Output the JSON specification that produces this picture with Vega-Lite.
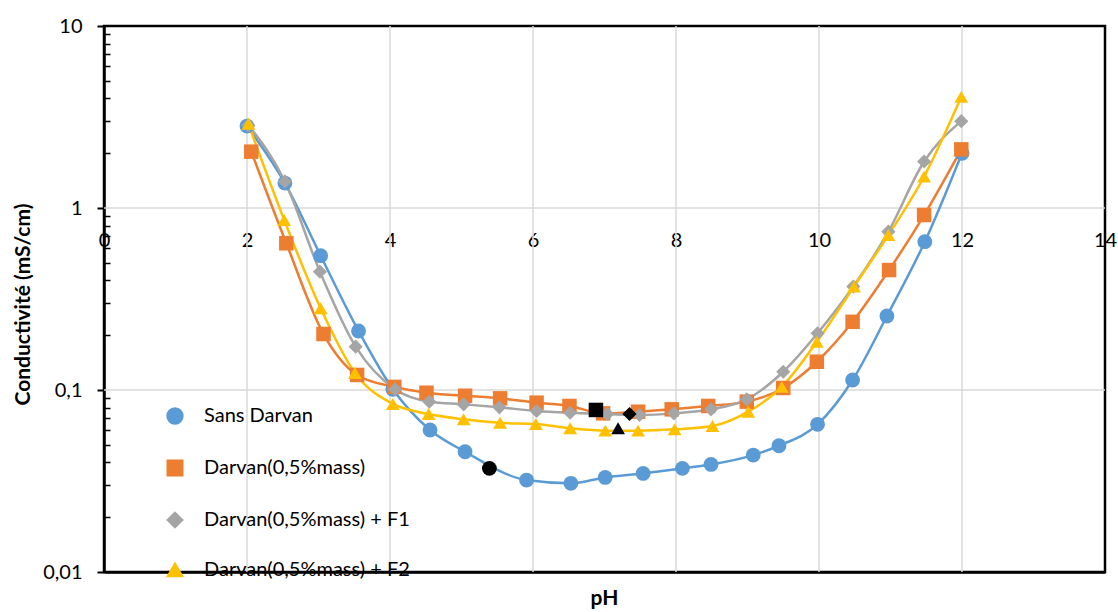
{
  "$schema": "https://vega.github.io/schema/vega-lite/v6.json",
  "width": 1001,
  "height": 546,
  "autosize": {"type": "none"},
  "padding": {"left": 104, "top": 26, "right": 13, "bottom": 40},
  "background": "white",
  "config": {
    "font": "Lato",
    "view": {"stroke": "black", "strokeWidth": 2.5},
    "axis": {
      "labelFont": "Lato",
      "labelFontSize": 20,
      "labelColor": "black",
      "titleFont": "Lato",
      "titleFontSize": 21,
      "titleFontWeight": "bold",
      "titleColor": "black"
    }
  },
  "datasets": {
    "gridx": [{"g": 2}, {"g": 4}, {"g": 6}, {"g": 8}, {"g": 10}, {"g": 12}],
    "gridy": [{"v": 0.1}, {"v": 1}],
    "main": [
      {"s": "Sans Darvan", "ph": 2.0, "c": 2.82},
      {"s": "Sans Darvan", "ph": 2.53, "c": 1.37},
      {"s": "Sans Darvan", "ph": 3.03, "c": 0.547},
      {"s": "Sans Darvan", "ph": 3.56, "c": 0.211},
      {"s": "Sans Darvan", "ph": 4.04, "c": 0.101},
      {"s": "Sans Darvan", "ph": 4.56, "c": 0.0603},
      {"s": "Sans Darvan", "ph": 5.05, "c": 0.0458},
      {"s": "Sans Darvan", "ph": 5.91, "c": 0.032},
      {"s": "Sans Darvan", "ph": 6.53, "c": 0.0307},
      {"s": "Sans Darvan", "ph": 7.01, "c": 0.0331},
      {"s": "Sans Darvan", "ph": 7.54, "c": 0.0348},
      {"s": "Sans Darvan", "ph": 8.09, "c": 0.0371},
      {"s": "Sans Darvan", "ph": 8.49, "c": 0.039},
      {"s": "Sans Darvan", "ph": 9.08, "c": 0.0439},
      {"s": "Sans Darvan", "ph": 9.44, "c": 0.0494},
      {"s": "Sans Darvan", "ph": 9.98, "c": 0.0648},
      {"s": "Sans Darvan", "ph": 10.47, "c": 0.1135},
      {"s": "Sans Darvan", "ph": 10.95, "c": 0.255},
      {"s": "Sans Darvan", "ph": 11.48, "c": 0.653},
      {"s": "Sans Darvan", "ph": 12.0, "c": 2.0},
      {"s": "Darvan(0,5%mass)", "ph": 2.06, "c": 2.04},
      {"s": "Darvan(0,5%mass)", "ph": 2.55, "c": 0.64},
      {"s": "Darvan(0,5%mass)", "ph": 3.07, "c": 0.203},
      {"s": "Darvan(0,5%mass)", "ph": 3.54, "c": 0.121},
      {"s": "Darvan(0,5%mass)", "ph": 4.06, "c": 0.104},
      {"s": "Darvan(0,5%mass)", "ph": 4.51, "c": 0.0966},
      {"s": "Darvan(0,5%mass)", "ph": 5.05, "c": 0.093},
      {"s": "Darvan(0,5%mass)", "ph": 5.54, "c": 0.09},
      {"s": "Darvan(0,5%mass)", "ph": 6.05, "c": 0.0852},
      {"s": "Darvan(0,5%mass)", "ph": 6.51, "c": 0.0817},
      {"s": "Darvan(0,5%mass)", "ph": 6.98, "c": 0.0744},
      {"s": "Darvan(0,5%mass)", "ph": 7.47, "c": 0.076},
      {"s": "Darvan(0,5%mass)", "ph": 7.94, "c": 0.0783},
      {"s": "Darvan(0,5%mass)", "ph": 8.45, "c": 0.0817},
      {"s": "Darvan(0,5%mass)", "ph": 8.99, "c": 0.0863},
      {"s": "Darvan(0,5%mass)", "ph": 9.5, "c": 0.1026},
      {"s": "Darvan(0,5%mass)", "ph": 9.97, "c": 0.143},
      {"s": "Darvan(0,5%mass)", "ph": 10.47, "c": 0.237},
      {"s": "Darvan(0,5%mass)", "ph": 10.98, "c": 0.456},
      {"s": "Darvan(0,5%mass)", "ph": 11.47, "c": 0.915},
      {"s": "Darvan(0,5%mass)", "ph": 11.99, "c": 2.1},
      {"s": "Darvan(0,5%mass) + F1", "ph": 2.02, "c": 2.85},
      {"s": "Darvan(0,5%mass) + F1", "ph": 2.53, "c": 1.4},
      {"s": "Darvan(0,5%mass) + F1", "ph": 3.02, "c": 0.447},
      {"s": "Darvan(0,5%mass) + F1", "ph": 3.52, "c": 0.173},
      {"s": "Darvan(0,5%mass) + F1", "ph": 4.07, "c": 0.101},
      {"s": "Darvan(0,5%mass) + F1", "ph": 4.55, "c": 0.0863},
      {"s": "Darvan(0,5%mass) + F1", "ph": 5.03, "c": 0.0834},
      {"s": "Darvan(0,5%mass) + F1", "ph": 5.53, "c": 0.0803},
      {"s": "Darvan(0,5%mass) + F1", "ph": 6.05, "c": 0.0767},
      {"s": "Darvan(0,5%mass) + F1", "ph": 6.52, "c": 0.075},
      {"s": "Darvan(0,5%mass) + F1", "ph": 7.04, "c": 0.0738},
      {"s": "Darvan(0,5%mass) + F1", "ph": 7.49, "c": 0.0729},
      {"s": "Darvan(0,5%mass) + F1", "ph": 7.97, "c": 0.0744},
      {"s": "Darvan(0,5%mass) + F1", "ph": 8.49, "c": 0.0783},
      {"s": "Darvan(0,5%mass) + F1", "ph": 8.99, "c": 0.0889},
      {"s": "Darvan(0,5%mass) + F1", "ph": 9.5, "c": 0.126},
      {"s": "Darvan(0,5%mass) + F1", "ph": 9.98, "c": 0.205},
      {"s": "Darvan(0,5%mass) + F1", "ph": 10.48, "c": 0.37},
      {"s": "Darvan(0,5%mass) + F1", "ph": 10.97, "c": 0.741},
      {"s": "Darvan(0,5%mass) + F1", "ph": 11.47, "c": 1.8},
      {"s": "Darvan(0,5%mass) + F1", "ph": 11.99, "c": 3.0},
      {"s": "Darvan(0,5%mass) + F2", "ph": 2.02, "c": 2.9},
      {"s": "Darvan(0,5%mass) + F2", "ph": 2.52, "c": 0.86},
      {"s": "Darvan(0,5%mass) + F2", "ph": 3.03, "c": 0.281},
      {"s": "Darvan(0,5%mass) + F2", "ph": 3.51, "c": 0.124},
      {"s": "Darvan(0,5%mass) + F2", "ph": 4.04, "c": 0.0838},
      {"s": "Darvan(0,5%mass) + F2", "ph": 4.54, "c": 0.0738},
      {"s": "Darvan(0,5%mass) + F2", "ph": 5.03, "c": 0.069},
      {"s": "Darvan(0,5%mass) + F2", "ph": 5.54, "c": 0.066},
      {"s": "Darvan(0,5%mass) + F2", "ph": 6.04, "c": 0.065},
      {"s": "Darvan(0,5%mass) + F2", "ph": 6.52, "c": 0.0616},
      {"s": "Darvan(0,5%mass) + F2", "ph": 7.01, "c": 0.0598},
      {"s": "Darvan(0,5%mass) + F2", "ph": 7.47, "c": 0.0598},
      {"s": "Darvan(0,5%mass) + F2", "ph": 7.98, "c": 0.0608},
      {"s": "Darvan(0,5%mass) + F2", "ph": 8.51, "c": 0.0634},
      {"s": "Darvan(0,5%mass) + F2", "ph": 9.01, "c": 0.076},
      {"s": "Darvan(0,5%mass) + F2", "ph": 9.48, "c": 0.104},
      {"s": "Darvan(0,5%mass) + F2", "ph": 9.97, "c": 0.184},
      {"s": "Darvan(0,5%mass) + F2", "ph": 10.49, "c": 0.37},
      {"s": "Darvan(0,5%mass) + F2", "ph": 10.97, "c": 0.71},
      {"s": "Darvan(0,5%mass) + F2", "ph": 11.47, "c": 1.49},
      {"s": "Darvan(0,5%mass) + F2", "ph": 11.99, "c": 4.09}
    ],
    "iep": [
      {"s": "Sans Darvan", "ph": 5.39, "c": 0.0371},
      {"s": "Darvan(0,5%mass)", "ph": 6.88, "c": 0.0777},
      {"s": "Darvan(0,5%mass) + F2", "ph": 7.19, "c": 0.0616},
      {"s": "Darvan(0,5%mass) + F1", "ph": 7.35, "c": 0.0738}
    ]
  },
  "layer": [
    {
      "encoding": {
        "x": {
          "field": "ph",
          "type": "quantitative",
          "title": "pH",
          "scale": {"domain": [0, 14], "nice": false, "zero": false},
          "axis": {
            "values": [0, 2, 4, 6, 8, 10, 12, 14],
            "grid": false,
            "domain": true,
            "domainColor": "black",
            "domainWidth": 2.5,
            "ticks": false,
            "labelFlush": false,
            "labelBaseline": "middle",
            "labelPadding": -332,
            "titleX": 500,
            "titleY": 26,
            "titleAlign": "center",
            "titleBaseline": "middle"
          }
        },
        "y": {
          "field": "c",
          "type": "quantitative",
          "title": "Conductivité (mS/cm)",
          "scale": {"type": "log", "domain": [0.01, 10], "nice": false},
          "axis": {
            "values": [0.01, 0.1, 1, 10],
            "grid": false,
            "domain": true,
            "domainColor": "black",
            "domainWidth": 2.5,
            "ticks": true,
            "tickSize": 7,
            "tickColor": "black",
            "tickWidth": 2,
            "labelPadding": 15,
            "labelExpr": "replace(toString(datum.value), '.', ',')",
            "titleX": -81,
            "titleY": 278,
            "titleAngle": -90,
            "titleAlign": "center",
            "titleBaseline": "middle"
          }
        }
      },
      "layer": [
        {
          "data": {"name": "gridx"},
          "mark": {"type": "rule", "color": "#d9d9d9", "strokeWidth": 1.5},
          "encoding": {
            "x": {"field": "g", "type": "quantitative", "title": "pH"},
            "y": null
          }
        },
        {
          "data": {"name": "gridy"},
          "mark": {"type": "rule", "color": "#d9d9d9", "strokeWidth": 1.5},
          "encoding": {
            "x": null,
            "y": {"field": "v", "type": "quantitative", "title": "Conductivité (mS/cm)"}
          }
        },
        {
          "data": {"name": "main"},
          "mark": {"type": "line", "interpolate": "monotone", "strokeWidth": 2.5},
          "encoding": {
            "stroke": {
              "field": "s",
              "type": "nominal",
              "scale": {
                "domain": ["Sans Darvan", "Darvan(0,5%mass)", "Darvan(0,5%mass) + F1", "Darvan(0,5%mass) + F2"],
                "range": ["#5B9BD5", "#ED7D31", "#A5A5A5", "#FFC000"]
              },
              "legend": {
                "orient": "none",
                "legendX": 61,
                "legendY": 380,
                "title": null,
                "padding": 0,
                "symbolSize": 196,
                "symbolStrokeWidth": 2.5,
                "labelFont": "Lato",
                "labelFontSize": 20,
                "labelColor": "black",
                "labelLimit": 400,
                "labelOffset": 19,
                "rowPadding": 26
              }
            }
          }
        },
        {
          "data": {"name": "main"},
          "mark": {"type": "point", "filled": true, "opacity": 1},
          "encoding": {
            "fill": {
              "field": "s",
              "type": "nominal",
              "scale": {
                "domain": ["Sans Darvan", "Darvan(0,5%mass)", "Darvan(0,5%mass) + F1", "Darvan(0,5%mass) + F2"],
                "range": ["#5B9BD5", "#ED7D31", "#A5A5A5", "#FFC000"]
              },
              "legend": {
                "orient": "none",
                "legendX": 61,
                "legendY": 380,
                "title": null,
                "padding": 0,
                "symbolSize": 196,
                "symbolStrokeWidth": 2.5,
                "labelFont": "Lato",
                "labelFontSize": 20,
                "labelColor": "black",
                "labelLimit": 400,
                "labelOffset": 19,
                "rowPadding": 26
              }
            },
            "shape": {
              "field": "s",
              "type": "nominal",
              "scale": {
                "domain": ["Sans Darvan", "Darvan(0,5%mass)", "Darvan(0,5%mass) + F1", "Darvan(0,5%mass) + F2"],
                "range": ["circle", "square", "diamond", "triangle-up"]
              },
              "legend": {
                "orient": "none",
                "legendX": 61,
                "legendY": 380,
                "title": null,
                "padding": 0,
                "symbolSize": 196,
                "symbolStrokeWidth": 2.5,
                "labelFont": "Lato",
                "labelFontSize": 20,
                "labelColor": "black",
                "labelLimit": 400,
                "labelOffset": 19,
                "rowPadding": 26
              }
            },
            "size": {
              "field": "s",
              "type": "nominal",
              "scale": {
                "domain": ["Sans Darvan", "Darvan(0,5%mass)", "Darvan(0,5%mass) + F1", "Darvan(0,5%mass) + F2"],
                "range": [220, 190, 170, 240]
              },
              "legend": null
            }
          }
        },
        {
          "data": {"name": "iep"},
          "mark": {"type": "point", "filled": true, "opacity": 1},
          "encoding": {
            "fill": {"value": "black"},
            "shape": {"field": "s", "type": "nominal", "legend": null},
            "size": {"field": "s", "type": "nominal", "legend": null}
          }
        }
      ]
    },
    {
      "data": {"name": "main"},
      "mark": {"type": "point", "opacity": 0},
      "encoding": {
        "y": {
          "field": "c",
          "type": "quantitative",
          "scale": {"type": "log", "domain": [0.01, 10], "nice": false},
          "axis": {
            "orient": "left",
            "values": [0.02, 0.03, 0.04, 0.05, 0.06, 0.07, 0.08, 0.09, 0.2, 0.3, 0.4, 0.5, 0.6, 0.7, 0.8, 0.9, 2, 3, 4, 5, 6, 7, 8, 9],
            "grid": false,
            "domain": false,
            "labels": false,
            "ticks": true,
            "tickSize": -6,
            "tickColor": "black",
            "tickWidth": 1.5,
            "title": null
          }
        }
      }
    }
  ],
  "resolve": {"scale": {"y": "independent"}, "axis": {"y": "independent"}}
}
